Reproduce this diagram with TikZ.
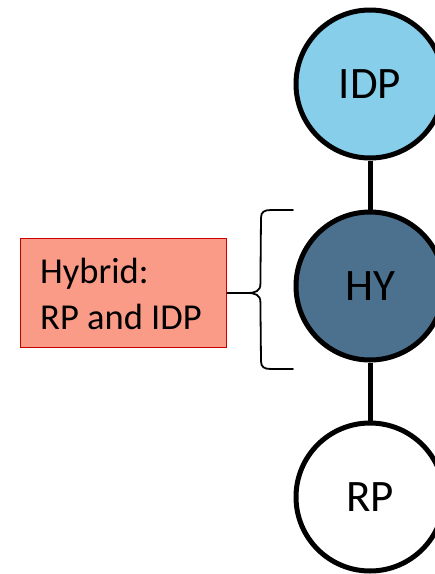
\documentclass[tikz,border=0pt]{standalone}
\usepackage{fontspec}
\setmainfont{Carlito}
\definecolor{idpblue}{RGB}{135,206,235}
\definecolor{hyblue}{RGB}{75,113,143}
\definecolor{boxfill}{RGB}{250,155,136}
\definecolor{boxline}{RGB}{200,0,0}
\tikzset{
  state/.style={circle, draw=black, line width=5pt, minimum size=148pt, inner sep=0pt,
    font=\fontsize{45}{54}\selectfont},
  link/.style={line width=5pt},
  notebox/.style={rectangle, draw=boxline, fill=boxfill, line width=1.8pt,
    minimum width=206pt, minimum height=109pt, inner sep=0pt},
  bracepath/.style={line width=1.8pt, line cap=round, line join=round}
}
\begin{document}
\begin{tikzpicture}[x=1pt, y=-1pt]
  \useasboundingbox (0,0) rectangle (435,574);
  \clip (0,0) rectangle (435,574);

  % three states, top to bottom
  \node[state, fill=idpblue] (idp) at (370,84) {IDP};
  \node[state, fill=hyblue] (hy) at (370,286) {HY};
  \node[state, fill=white] (rp) at (370,497) {RP};

  \draw[link] (idp.south) -- (hy.north);
  \draw[link] (hy.south) -- (rp.north);

  % label box
  \node[notebox] (note) at (123.5,293) {};
  \node[anchor=west, align=left, inner sep=0pt,
        font=\fontsize{36.5}{46}\selectfont] (notetext) at (40,294)
        {Hybrid:\\RP and IDP};

  % curly brace spanning the hybrid state
  \coordinate (tip) at (note.east);
  \draw[bracepath] (tip) -- ++(20,0)
    .. controls ++(8,0) and ++(0,7) .. ++(13,-9)
    -- (261,218)
    .. controls (261,212) and (264,210) .. (271,210)
    -- (293,210);
  \draw[bracepath] (tip) -- ++(20,0)
    .. controls ++(8,0) and ++(0,-7) .. ++(13,9)
    -- (261,361)
    .. controls (261,367) and (264,369) .. (271,369)
    -- (293,369);
\end{tikzpicture}
\end{document}
